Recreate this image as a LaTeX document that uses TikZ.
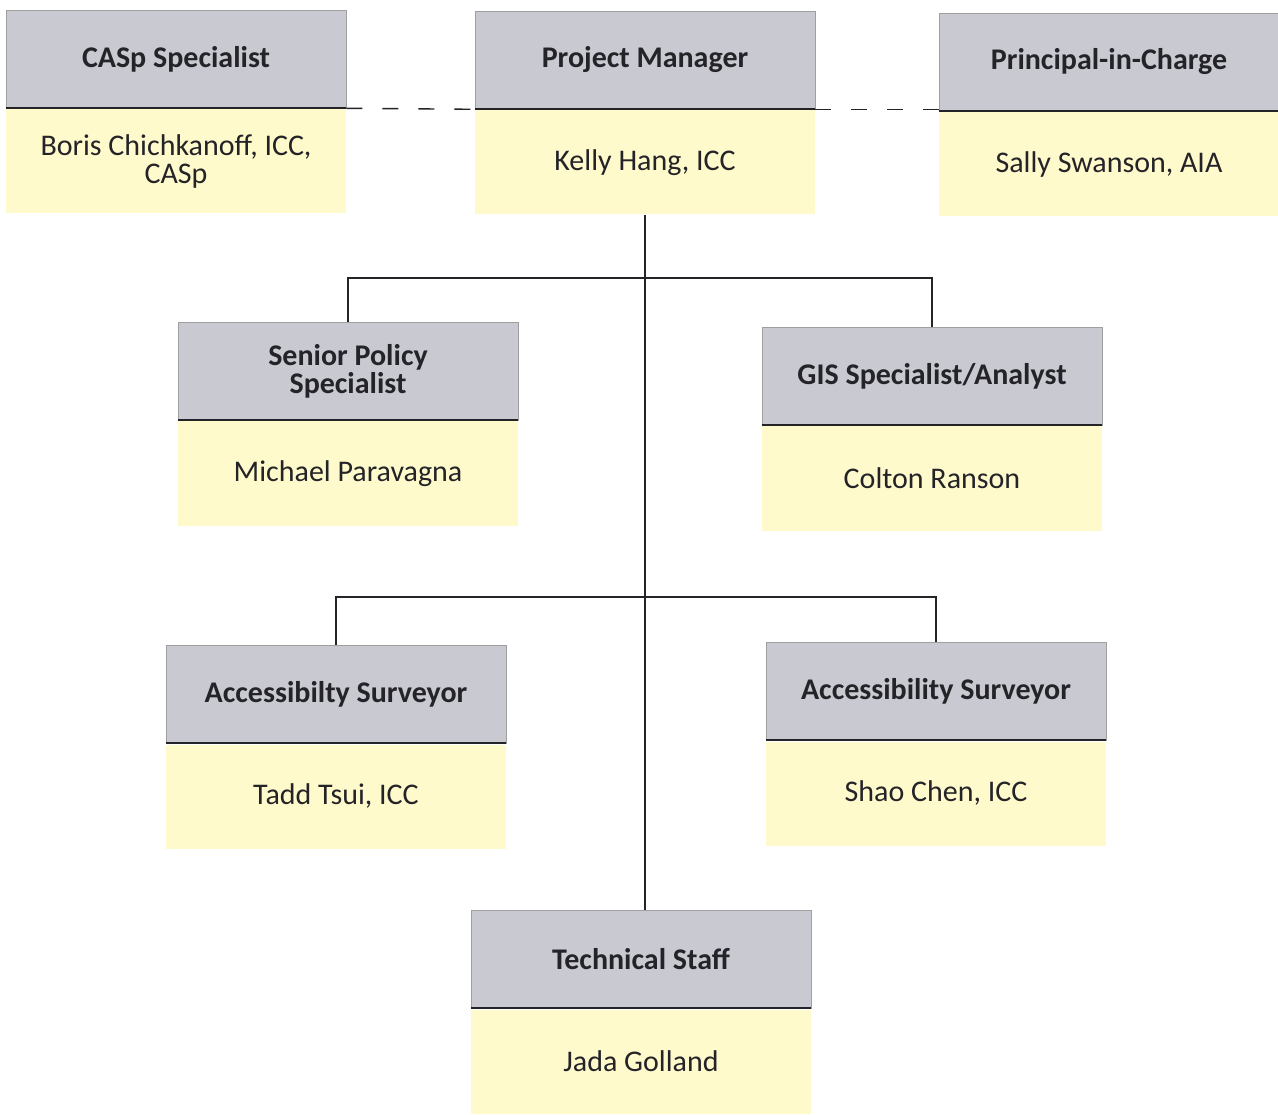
\documentclass[tikz,border=0pt]{standalone}
\usepackage{fontspec}
\setmainfont{Carlito}
\usetikzlibrary{positioning}
\definecolor{titlegray}{RGB}{201,201,210}
\definecolor{nameyellow}{RGB}{255,250,204}
\definecolor{inkdark}{RGB}{35,35,40}
\begin{document}
\begin{tikzpicture}[x=1pt, y=-1pt,
  title/.style={rectangle, fill=titlegray, draw=gray!75, line width=0.6pt,
    minimum width=340pt, minimum height=98pt, inner sep=2pt, align=center,
    text=inkdark, font=\fontsize{30}{28}\selectfont\bfseries},
  person/.style={rectangle, fill=nameyellow, minimum width=340pt,
    minimum height=104pt, inner sep=2pt, align=center, text=inkdark,
    font=\fontsize{30}{28}\selectfont},
  baseline/.style={line width=1.8pt, draw=inkdark},
  link/.style={line width=1.6pt, draw=inkdark},
  dotted link/.style={line width=1.4pt, draw=inkdark, dash pattern=on 16pt off 20pt}]

  \useasboundingbox (0,0) rectangle (1278,1115);

  % top row
  \node[title] (casp) at (176,59) {CASp Specialist};
  \node[person, below=1pt of casp] (caspn) {Boris Chichkanoff, ICC,\\CASp};
  \node[title] (pm) at (645,60) {Project Manager};
  \node[person, below=1pt of pm] (pmn) {Kelly Hang, ICC};
  \node[title] (pic) at (1109,62) {Principal-in-Charge};
  \node[person, below=1pt of pic] (picn) {Sally Swanson, AIA};

  % second row
  \node[title] (policy) at (348,371) {Senior Policy\\Specialist};
  \node[person, below=1pt of policy] (policyn) {Michael Paravagna};
  \node[title] (gis) at (932,376) {GIS Specialist/Analyst};
  \node[person, below=1pt of gis] (gisn) {Colton Ranson};

  % third row
  \node[title] (surv1) at (336,694) {Accessibilty Surveyor};
  \node[person, below=1pt of surv1] (surv1n) {Tadd Tsui, ICC};
  \node[title] (surv2) at (936,691) {Accessibility Surveyor};
  \node[person, below=1pt of surv2] (surv2n) {Shao Chen, ICC};

  % bottom
  \node[title] (tech) at (641,959) {Technical Staff};
  \node[person, below=1pt of tech] (techn) {Jada Golland};

  % rules under the titles
  \foreach \b in {casp,pm,pic,policy,gis,surv1,surv2,tech}
    \draw[baseline] (\b.south west) -- (\b.south east);

  % dotted relations
  \draw[dotted link] (casp.south east) -- (pm.south west);
  \draw[dotted link] (pm.south east) -- (pm.south east -| pic.south west);

  % reporting lines
  \coordinate (j1) at (pmn.south |- 0,278);
  \coordinate (j2) at (pmn.south |- 0,597);
  \draw[link] (pmn.south) -- (pmn.south |- tech.north);
  \draw[link] (policy.north) |- (j1) -| (gis.north);
  \draw[link] (surv1.north) |- (j2) -| (surv2.north);
\end{tikzpicture}
\end{document}
